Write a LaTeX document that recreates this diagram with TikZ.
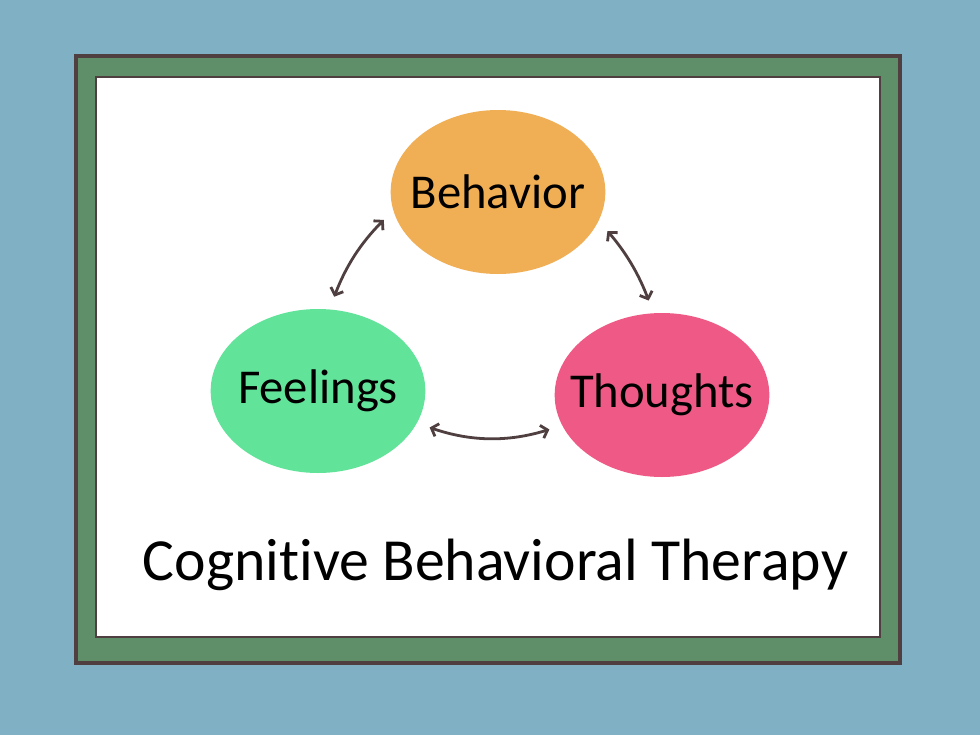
\documentclass[tikz,border=0pt]{standalone}
\usepackage{fontspec}
\setsansfont{Carlito}[Ligatures=CommonOff]
\usetikzlibrary{arrows.meta, shapes.geometric}
\tikzset{every node/.style={font=\sffamily}}
\definecolor{wallblue}{HTML}{80B0C4}
\definecolor{framegreen}{HTML}{5F8F68}
\definecolor{framebrown}{HTML}{4F3F40}
\definecolor{behorange}{HTML}{F0AE55}
\definecolor{feelgreen}{HTML}{62E39A}
\definecolor{thoughtpink}{HTML}{EE5A85}
\begin{document}
\begin{tikzpicture}[
    x=0.75pt, y=-0.75pt,
    >={Straight Barb[length=4.5pt, width=10pt]},
    bubble/.style={ellipse, minimum width=161pt, minimum height=123pt, inner sep=0pt,
      label={[font=\sffamily\fontsize{36.5}{40}\selectfont]center:#1}},
    link/.style={<->, color=framebrown, line width=2.1pt, shorten <=10pt, shorten >=10pt},
  ]
  \fill[wallblue] (0,0) rectangle (980,735);
  \useasboundingbox (0,0) rectangle (980,735);
  % frame
  \filldraw[fill=framegreen, draw=framebrown, line width=3pt] (76,56) rectangle (900,663);
  \filldraw[fill=white, draw=framebrown, line width=2.2pt] (96,77) rectangle (880,637);
  % bubbles
  \node[bubble=Behavior, fill=behorange] (beh) at (498,192) {};
  \node[bubble=Feelings, fill=feelgreen] (feel) at (318,391) {};
  \node[bubble=Thoughts, fill=thoughtpink] (thou) at (662,395) {};
  \draw[link] (beh.190) to[bend right=12] (feel.82);
  \draw[link] (beh.344) to[bend left=10] (thou.96);
  \draw[link] (feel.342) to[bend right=18] (thou.197);
  \node[anchor=base, font=\sffamily\fontsize{44.8}{50}\selectfont] (title) at (495.5,580) {Cognitive Behavioral Therapy};
\end{tikzpicture}
\end{document}
